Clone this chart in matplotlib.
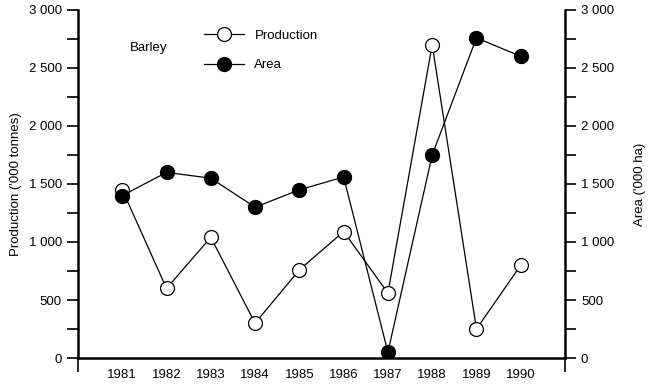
import matplotlib
matplotlib.use('Agg')
import matplotlib.pyplot as plt
from matplotlib.ticker import MultipleLocator, FuncFormatter

plt.rcParams['font.family'] = ['Liberation Sans', 'DejaVu Sans']

years = [1981, 1982, 1983, 1984, 1985, 1986, 1987, 1988, 1989, 1990]
production = [1450, 600, 1040, 300, 760, 1090, 560, 2700, 250, 800]
area = [1400, 1600, 1550, 1300, 1450, 1560, 50, 1750, 2760, 2600]

def thousands(v, pos):
    return '{:,}'.format(int(v)).replace(',', ' ')

fig = plt.figure(figsize=(6.52, 3.85), dpi=100)
ax = fig.add_axes([0.1196, 0.0701, 0.747, 0.904])
ax2 = ax.twinx()

l1, = ax.plot(years, production, color='black', lw=0.9, marker='o', ms=10,
              mfc='white', mec='black', mew=0.9, label='Production', zorder=3)
l2, = ax2.plot(years, area, color='black', lw=0.9, marker='o', ms=10,
               mfc='black', mec='black', label='Area', zorder=3)

fs = 9.5
for a in (ax, ax2):
    a.set_xlim(1980, 1991)
    a.set_ylim(0, 3000)
    a.yaxis.set_major_locator(MultipleLocator(500))
    a.yaxis.set_minor_locator(MultipleLocator(250))
    a.yaxis.set_major_formatter(FuncFormatter(thousands))
    a.spines['top'].set_visible(False)
    for s in ('left', 'right', 'bottom'):
        a.spines[s].set_linewidth(1.8)
    a.tick_params(axis='y', which='both', length=8, width=1.2, labelsize=fs, direction='out')

ax.spines['right'].set_visible(False)
ax2.spines['left'].set_visible(False)
ax2.spines['bottom'].set_visible(False)

ax.set_xticks([1980, 1991])
ax.set_xticklabels(['', ''])
ax.set_xticks(years, minor=True)
ax.set_xticklabels([str(y) for y in years], minor=True)
ax.tick_params(axis='x', which='major', length=10, width=1.2, direction='out')
ax.tick_params(axis='x', which='minor', length=0, labelsize=fs, pad=8)

ax.set_ylabel("Production ('000 tonnes)", fontsize=fs, labelpad=5)
ax2.set_ylabel("Area ('000 ha)", fontsize=fs, rotation=90, labelpad=14)

ax.text(1981.18, 2670, 'Barley', fontsize=fs, ha='left', va='center')
ax.legend(handles=[l1, l2], loc='upper left', bbox_to_anchor=(0.235, 0.978),
          frameon=False, fontsize=fs, handlelength=3.0, labelspacing=1.3,
          handletextpad=0.8)

fig.savefig('out.png', dpi=100)
